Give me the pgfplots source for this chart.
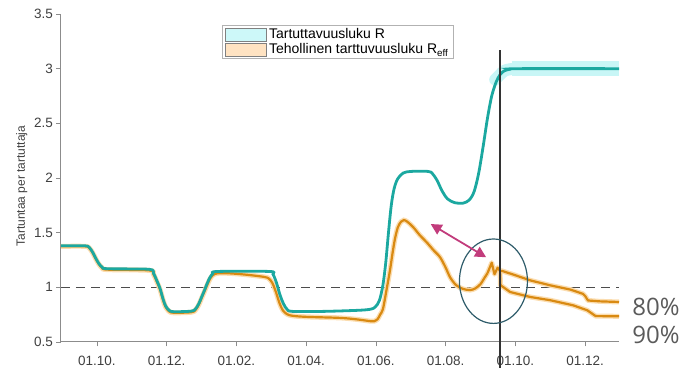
\documentclass[border=0pt]{standalone}
\usepackage{fontspec}
\setmainfont{Liberation Sans}
\newfontfamily\opensans{Open Sans}
\usepackage{pgfplots}
\pgfplotsset{compat=1.18}
\usetikzlibrary{arrows.meta}
\definecolor{tealc}{HTML}{1BA8A0}
\definecolor{tealband}{HTML}{C8F6F6}
\definecolor{orc}{HTML}{D98A12}
\definecolor{orhalo}{HTML}{FBDDB0}
\definecolor{legcyan}{HTML}{CDF8F9}
\definecolor{legor}{HTML}{FFE3C2}
\definecolor{magc}{HTML}{C23C7C}
\definecolor{ellc}{HTML}{2E5C6A}
\definecolor{axc}{HTML}{8C8C8C}
\definecolor{txc}{HTML}{404040}
\definecolor{bigtxt}{HTML}{5A5A5A}
\begin{document}
\begin{tikzpicture}
\begin{axis}[
  scale only axis, width=558pt, height=328pt,
  xmin=-1.03, xmax=14.97, ymin=0.5, ymax=3.5,
  axis x line*=bottom, axis y line*=left,
  axis line style={-, axc, line width=1pt},
  xtick={0,2,4,6,8,10,12,14},
  xticklabels={01.10.,01.12.,01.02.,01.04.,01.06.,01.08.,01.10.,01.12.},
  ytick={0.5,1,1.5,2,2.5,3,3.5},
  yticklabels={0.5,1,1.5,2,2.5,3,3.5},
  tick align=outside, major tick length=4.5pt,
  tick style={axc, line width=0.8pt},
  ticklabel style={font=\fontsize{13.5}{15}\selectfont, text=txc},
  xticklabel style={yshift=-6pt},
  ylabel={Tartuntaa per tartuttaja},
  ylabel style={font=\fontsize{12}{14}\selectfont, text=txc, at={(ticklabel cs:0.475)}},
  clip=false,
  legend image code/.code={\draw[#1] (0pt,-6.5pt) rectangle (41pt,6.5pt);},
  legend style={at={(rel axis cs:0.2885,0.966)}, anchor=north west,
    draw=gray!60, line width=0.8pt, inner xsep=3pt, inner ysep=2pt,
    font=\fontsize{14}{16}\selectfont, cells={anchor=west},
    row sep=1.5pt, nodes={inner xsep=2pt, inner ysep=1pt}},
]
\addlegendimage{fill=legcyan, draw=gray, line width=0.7pt}
\addlegendentry{Tartuttavuusluku R}
\addlegendimage{fill=legor, draw=gray, line width=0.7pt}
\addlegendentry{Tehollinen tarttuvuusluku R\textsubscript{eff}}

% reference line at 1
\addplot[forget plot, black!70, line width=1pt, dash pattern=on 9pt off 6pt] coordinates {(-1.03,1)(14.97,1)};

% teal band (uncertainty)
\addplot[forget plot, tealband, line width=12pt, line cap=round, line join=round, smooth, tension=0.5] coordinates {
(11.42,2.9)(11.56,2.945)(11.68,2.98)(11.85,2.995)(12.1,3.0)(12.6,3.0)};
\addplot[forget plot, tealband, line width=15pt, line cap=butt] coordinates {
(11.9,3.0)(14.97,3.0)};

% orange: Reff (common part)
\addplot[forget plot, orhalo, line width=5pt, smooth, tension=0.5] coordinates {
(-1.03,1.375)(-0.35,1.375)(-0.22,1.36)(-0.12,1.315)(-0.04,1.265)(0.05,1.215)(0.15,1.178)(0.3,1.162)(1.5,1.155)(1.62,1.12)(1.72,1.05)(1.81,0.98)(1.9,0.88)(1.97,0.82)(2.07,0.78)(2.2,0.767)(2.7,0.772)(2.82,0.79)(2.92,0.84)(3.0,0.90)(3.08,0.96)(3.16,1.02)(3.24,1.075)(3.32,1.11)(3.45,1.128)(3.8,1.128)(4.3,1.115)(4.8,1.095)(4.93,1.08)(5.03,1.04)(5.13,0.96)(5.23,0.86)(5.33,0.79)(5.45,0.755)(5.6,0.74)(6.0,0.73)(7.0,0.72)(7.5,0.705)(7.85,0.69)(7.95,0.69)(8.05,0.71)(8.12,0.75)(8.2,0.8)(8.3,0.97)(8.4,1.15)(8.48,1.32)(8.55,1.45)(8.63,1.55)(8.72,1.6)(8.8,1.615)(8.9,1.6)(9.07,1.55)(9.25,1.48)(9.46,1.41)(9.65,1.34)(9.84,1.275)(10.0,1.18)(10.13,1.09)(10.3,1.02)(10.5,0.985)(10.7,0.975)(10.85,0.99)(11.0,1.03)(11.1,1.08)(11.2,1.13)};
\addplot[forget plot, orhalo, line width=5pt, line join=round] coordinates {
(11.2,1.13)(11.32,1.225)(11.4,1.12)(11.49,1.18)(11.56,1.15)(11.62,1.15)(11.76,1.135)(11.93,1.118)(12.42,1.064)(13.0,1.018)(13.57,0.98)(13.94,0.94)(14.0,0.92)(14.08,0.88)(14.4,0.872)(14.97,0.866)};
\addplot[forget plot, orhalo, line width=5pt, line join=round] coordinates {
(11.56,1.15)(11.57,1.02)(11.85,0.957)(12.42,0.912)(13.0,0.882)(13.65,0.836)(14.06,0.79)(14.3,0.737)(14.97,0.735)};

\addplot[forget plot, orc, line width=2.2pt, smooth, tension=0.5] coordinates {
(-1.03,1.375)(-0.35,1.375)(-0.22,1.36)(-0.12,1.315)(-0.04,1.265)(0.05,1.215)(0.15,1.178)(0.3,1.162)(1.5,1.155)(1.62,1.12)(1.72,1.05)(1.81,0.98)(1.9,0.88)(1.97,0.82)(2.07,0.78)(2.2,0.767)(2.7,0.772)(2.82,0.79)(2.92,0.84)(3.0,0.90)(3.08,0.96)(3.16,1.02)(3.24,1.075)(3.32,1.11)(3.45,1.128)(3.8,1.128)(4.3,1.115)(4.8,1.095)(4.93,1.08)(5.03,1.04)(5.13,0.96)(5.23,0.86)(5.33,0.79)(5.45,0.755)(5.6,0.74)(6.0,0.73)(7.0,0.72)(7.5,0.705)(7.85,0.69)(7.95,0.69)(8.05,0.71)(8.12,0.75)(8.2,0.8)(8.3,0.97)(8.4,1.15)(8.48,1.32)(8.55,1.45)(8.63,1.55)(8.72,1.6)(8.8,1.615)(8.9,1.6)(9.07,1.55)(9.25,1.48)(9.46,1.41)(9.65,1.34)(9.84,1.275)(10.0,1.18)(10.13,1.09)(10.3,1.02)(10.5,0.985)(10.7,0.975)(10.85,0.99)(11.0,1.03)(11.1,1.08)(11.2,1.13)};
% 80 % scenario
\addplot[forget plot, orc, line width=2.2pt, line join=round] coordinates {
(11.2,1.13)(11.32,1.225)(11.4,1.12)(11.49,1.18)(11.56,1.15)(11.62,1.15)(11.76,1.135)(11.93,1.118)(12.42,1.064)(13.0,1.018)(13.57,0.98)(13.94,0.94)(14.0,0.92)(14.08,0.88)(14.4,0.872)(14.97,0.866)};
% 90 % scenario
\addplot[forget plot, orc, line width=2.2pt, line join=round] coordinates {
(11.56,1.15)(11.57,1.02)(11.85,0.957)(12.42,0.912)(13.0,0.882)(13.65,0.836)(14.06,0.79)(14.3,0.737)(14.97,0.735)};

% teal: R
\addplot[forget plot, tealc, line width=2.8pt, smooth, tension=0.5] coordinates {
(-1.03,1.38)(-0.35,1.38)(-0.22,1.365)(-0.12,1.32)(-0.04,1.27)(0.05,1.22)(0.15,1.185)(0.3,1.17)(1.5,1.165)(1.62,1.13)(1.72,1.06)(1.81,0.99)(1.9,0.89)(1.97,0.83)(2.07,0.79)(2.2,0.777)(2.7,0.782)(2.82,0.80)(2.92,0.85)(3.0,0.91)(3.08,0.97)(3.16,1.035)(3.24,1.09)(3.32,1.125)(3.45,1.145)(4.95,1.145)(5.05,1.12)(5.15,1.04)(5.25,0.93)(5.35,0.85)(5.45,0.80)(5.6,0.78)(6.5,0.78)(7.5,0.79)(7.85,0.80)(7.98,0.82)(8.1,0.88)(8.2,1.02)(8.28,1.22)(8.36,1.5)(8.44,1.75)(8.52,1.9)(8.62,1.99)(8.78,2.045)(9.0,2.06)(9.5,2.06)(9.62,2.04)(9.75,1.98)(9.9,1.88)(10.05,1.81)(10.25,1.775)(10.5,1.77)(10.68,1.8)(10.82,1.88)(10.95,2.05)(11.08,2.3)(11.2,2.55)(11.32,2.75)(11.45,2.88)(11.56,2.945)(11.68,2.98)(11.85,2.995)(12.1,3.0)(14.97,3.0)};

% annotations
\draw[black!80, line width=1.2pt] (axis cs:11.56,3.17) -- (axis cs:11.56,0.2);
\draw[ellc, line width=1.2pt] (axis cs:11.37,1.056) ellipse [x radius=0.975, y radius=0.386];
\draw[magc, line width=1.8pt, {Triangle[length=11pt,width=11pt]}-{Triangle[length=11pt,width=11pt]}] (axis cs:9.57,1.579) -- (axis cs:11.16,1.275);
\node[anchor=base west, inner sep=0pt, font=\opensans\fontsize{24}{26}\selectfont, text=bigtxt] at (axis cs:15.35,0.739) {80\%};
\node[anchor=base west, inner sep=0pt, font=\opensans\fontsize{24}{26}\selectfont, text=bigtxt] at (axis cs:15.35,0.482) {90\%};

\coordinate (bl) at (rel axis cs:0,0);
\coordinate (tr) at (rel axis cs:1,1);
\end{axis}
\path (bl) ++(-61pt,-26pt) coordinate (A);
\path (tr) ++(62pt,14pt) coordinate (B);
\pgfresetboundingbox
\path (A) rectangle (B);
\end{tikzpicture}
\end{document}
